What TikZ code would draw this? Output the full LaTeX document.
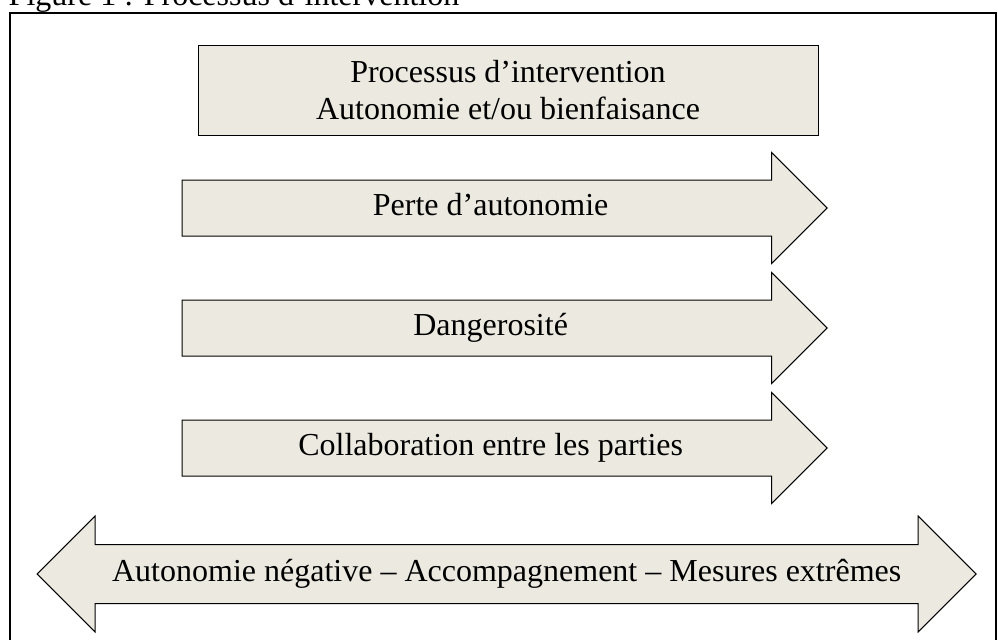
\documentclass[tikz,border=0pt]{standalone}
\usepackage{fontspec}
\setmainfont{Liberation Serif}
\usetikzlibrary{shapes.arrows}
\definecolor{beige}{RGB}{236,233,224}

\begin{document}
\begin{tikzpicture}[
        x=0.75pt, y=-0.75pt,
        node distance=90pt,
        every node/.style={align=center, font=\fontsize{24}{28}\selectfont},
        box/.style={draw, fill=beige, line width=0.75pt,
        minimum width=465pt, minimum height=67.5pt},
        rightarrow/.style={single arrow, draw, fill=beige, line width=0.75pt,
        minimum height=483.75pt, text height=16pt, text depth=5.25pt,
        inner ysep=10pt, single arrow head extend=20.625pt},
        bothways/.style={double arrow, draw, fill=beige, line width=0.75pt,
        minimum height=704.25pt, text height=16pt, text depth=5.25pt,
        inner ysep=11.125pt, double arrow head extend=21.375pt}
      ]
    \clip (0,0) rectangle (998,639);
    \node[anchor=base west] (title) at (4,5)
    {Figure 1 : Processus d’intervention};
    \draw[line width=1.5pt] (10,13) rectangle (996,660);
    \node[box] (intervention) at (508,90)
    {Processus d’intervention\\Autonomie et/ou bienfaisance};
    \node[rightarrow, below of=intervention, node distance=88.5pt,
    xshift=-13pt] (perte)
    {Perte d’autonomie};
    \node[rightarrow, below of=perte] (danger)
    {Dangerosité};
    \node[rightarrow, below of=danger] (collab)
    {Collaboration entre les parties};
    \node[bothways, below of=collab, node distance=94.5pt, xshift=12pt] (mesures)
    {Autonomie négative – Accompagnement – Mesures extrêmes};
      \end{tikzpicture}
\end{document}
